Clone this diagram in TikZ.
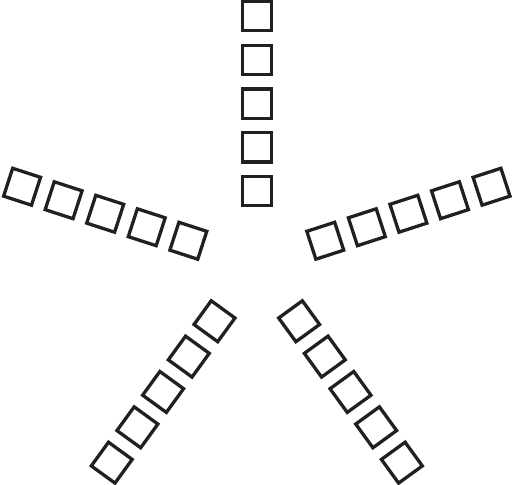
\documentclass[tikz,border=0pt]{standalone}
\usetikzlibrary{calc}
\definecolor{ink}{HTML}{231F20}
\tikzset{sq/.style={draw=ink, line width=3.3pt, rectangle, minimum size=29.3pt, inner sep=0pt}}
\begin{document}
\begin{tikzpicture}[x=1pt,y=1pt]
\useasboundingbox (0,0) rectangle (512,485);
\coordinate (c) at (256.8,222);
\foreach \a [count=\k] in {90,18,-54,-126,162}{
  \foreach \j in {0,...,4}{
    \node[sq, rotate=\a-90] (s\k-\j) at ($(c)+(\a:{72+43.7*\j})$) {};
  }
}
\end{tikzpicture}
\end{document}
